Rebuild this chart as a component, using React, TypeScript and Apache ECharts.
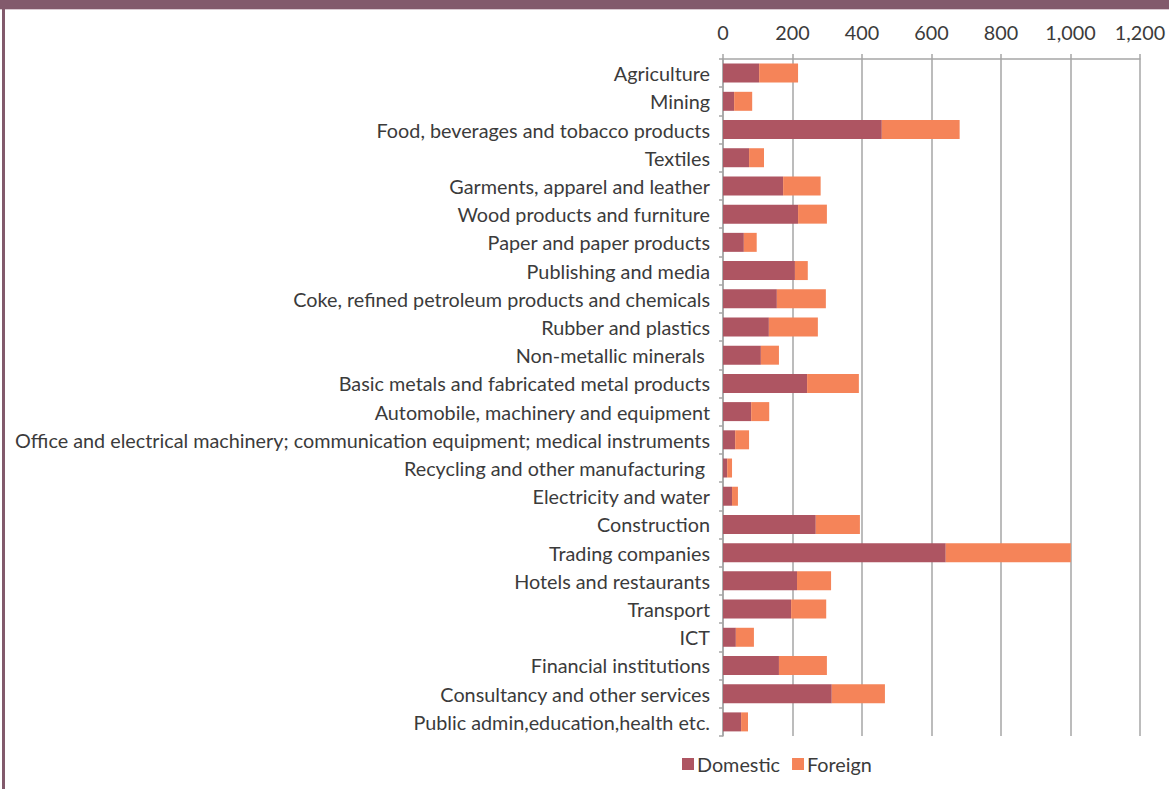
import React, { useEffect, useRef } from "react";
import * as echarts from "echarts";

const categories = [
  "Agriculture",
  "Mining",
  "Food, beverages and tobacco products",
  "Textiles",
  "Garments, apparel and leather",
  "Wood products and furniture",
  "Paper and paper products",
  "Publishing and media",
  "Coke, refined petroleum products and chemicals",
  "Rubber and plastics",
  "Non-metallic minerals ",
  "Basic metals and fabricated metal products",
  "Automobile, machinery and equipment",
  "Office and electrical machinery; communication equipment; medical instruments",
  "Recycling and other manufacturing ",
  "Electricity and water",
  "Construction",
  "Trading companies",
  "Hotels and restaurants",
  "Transport",
  "ICT",
  "Financial institutions",
  "Consultancy and other services",
  "Public admin,education,health etc.",
];

const domestic = [104, 32, 457, 75, 173, 216, 60, 207, 155, 132, 109, 242, 81, 35, 12, 26, 267, 641, 213, 196, 37, 161, 313, 52];
const foreign = [112, 52, 224, 43, 108, 83, 37, 37, 141, 141, 52, 149, 52, 40, 14, 17, 127, 360, 98, 101, 52, 138, 153, 20];

const FONT = "Lato";
const TEXT = "#3b3b3b";
const FS = 19.8;

export default function App() {
  const ref = useRef<HTMLDivElement>(null);
  useEffect(() => {
    if (!ref.current) return;
    const chart = echarts.init(ref.current, null, { renderer: "svg" });
    chart.setOption({
      animation: false,
      backgroundColor: "#ffffff",
      textStyle: { fontFamily: FONT },
      graphic: [
        { type: "rect", shape: { x: 0, y: 0, width: 1169, height: 9 }, style: { fill: "#825A6C" }, z: 100 },
        { type: "rect", shape: { x: 0, y: 9, width: 1169, height: 1 }, style: { fill: "#D9C9D1" }, z: 100 },
        { type: "rect", shape: { x: 2, y: 0, width: 3, height: 789 }, style: { fill: "#825A6C" }, z: 100 },
      ],
      legend: {
        data: ["Domestic", "Foreign"],
        left: 682,
        top: 754,
        padding: 0,
        icon: "rect",
        itemWidth: 12,
        itemHeight: 12,
        itemGap: 12,
        textStyle: { fontFamily: FONT, fontSize: FS, color: TEXT, padding: [0, 0, 0, -2] },
      },
      grid: { left: 723, right: 29, top: 59, bottom: 53, containLabel: false },
      xAxis: {
        type: "value",
        position: "top",
        min: 0,
        max: 1200,
        interval: 200,
        axisLine: { show: true, lineStyle: { color: "#A6A6A6", width: 1.5 } },
        axisTick: { show: true, length: 5, lineStyle: { color: "#A6A6A6", width: 1.5 } },
        axisLabel: {
          fontFamily: FONT,
          fontSize: FS,
          color: TEXT,
          margin: 17,
          formatter: (v: number) => v.toLocaleString("en-US"),
        },
        splitLine: { show: true, lineStyle: { color: "#A6A6A6", width: 1.5 } },
      },
      yAxis: {
        type: "category",
        inverse: true,
        data: categories,
        axisLine: { show: true, lineStyle: { color: "#A6A6A6", width: 1.5 } },
        axisTick: { show: true, length: 4, lineStyle: { color: "#A6A6A6", width: 1.5 } },
        axisLabel: { fontFamily: FONT, fontSize: FS, color: TEXT, margin: 13 },
      },
      series: [
        {
          name: "Domestic",
          type: "bar",
          stack: "total",
          data: domestic,
          barWidth: 19,
          itemStyle: { color: "#AE5562" },
        },
        {
          name: "Foreign",
          type: "bar",
          stack: "total",
          data: foreign,
          barWidth: 19,
          itemStyle: { color: "#F58459" },
        },
      ],
    });
    return () => chart.dispose();
  }, []);
  return (
    <div
      ref={ref}
      style={{ position: "fixed", left: 0, top: 0, width: 1169, height: 789, background: "#fff" }}
    />
  );
}
